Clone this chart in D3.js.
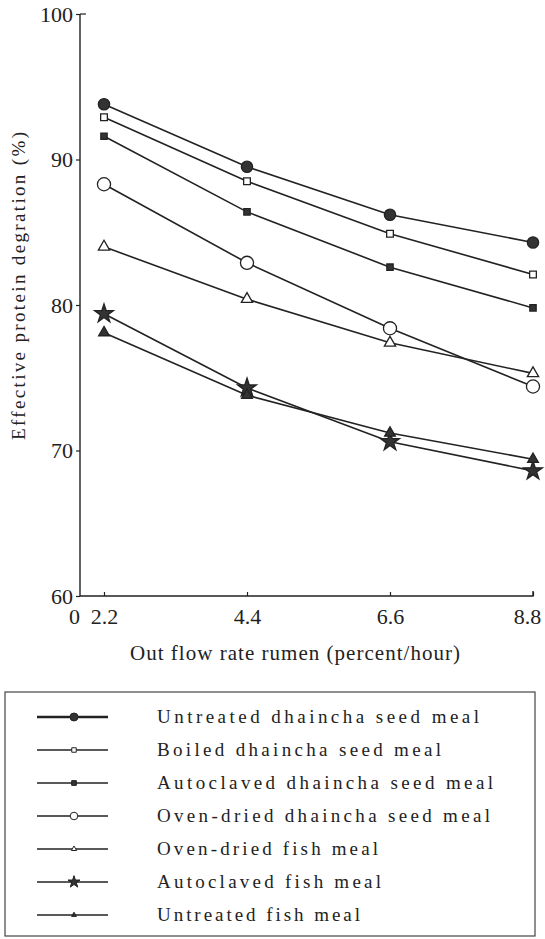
<!DOCTYPE html>
<html>
<head>
<meta charset="utf-8">
<script src="https://cdn.jsdelivr.net/npm/d3@7"></script>
<style>
  body { margin: 0; background: #fff; }
  svg { font-family: "Liberation Serif", "DejaVu Serif", serif; }
</style>
</head>
<body>
<div id="graph"></div>
<script>
// out flow rate (percent/hour)
var rates = [2.2, 4.4, 6.6, 8.8];
var xTicks = [0, 2.2, 4.4, 6.6, 8.8];
var yTicks = [60, 70, 80, 90, 100];

var names = ['Untreated dhaincha seed meal', 'Boiled dhaincha seed meal', 'Autoclaved dhaincha seed meal',
    'Oven-dried dhaincha seed meal', 'Oven-dried fish meal', 'Autoclaved fish meal', 'Untreated fish meal'];

// effective protein degradation (%), one list per feed
var untreatedDh = [93.8, 89.5, 86.2, 84.3];
var boiledDh = [92.9, 88.5, 84.9, 82.1];
var autoclavedDh = [91.6, 86.4, 82.6, 79.8];
var ovenDh = [88.3, 82.9, 78.4, 74.4];
var ovenFish = [84.0, 80.4, 77.4, 75.3];
var autoclavedFish = [79.4, 74.3, 70.6, 68.6];
var untreatedFish = [78.1, 73.8, 71.2, 69.4];

var allSeries = [untreatedDh, boiledDh, autoclavedDh, ovenDh, ovenFish, autoclavedFish, untreatedFish];

// marker look per series: [symbol, size in chart, size in legend, filled]
var marks = [
    [d3.symbolCircle, 100, 50, true],
    [d3.symbolSquare, 45, 20, false],
    [d3.symbolSquare, 40, 22, true],
    [d3.symbolCircle, 135, 45, false],
    [d3.symbolTriangle, 55, 12, false],
    [d3.symbolStar, 110, 45, true],
    [d3.symbolTriangle, 50, 10, true]
];

var W = 545, H = 939;
var ink = "#222";

var x = d3.scaleLinear()
    .domain([0, 2.2, 8.8])
    .range([76, 104, 533]);

var y = d3.scaleLinear()
    .domain([60, 100])
    .range([596, 14]);

var svg = 0;

window.addEventListener('load', function() {
    drawAxes();
    drawLines();
    drawLegend();
});

function drawAxes() {
    svg = d3.select("#graph")
        .append("svg")
        .attr("width", W)
        .attr("height", H);

    var ya = svg.append("g")
        .attr("transform", "translate(80,0)")
        .call(d3.axisLeft(y).tickValues(yTicks).tickSize(4).tickPadding(3));
    ya.select(".domain").attr("d", "M0," + y(100) + "V" + y(60)).attr("stroke", ink).attr("stroke-width", 1.4);
    ya.selectAll(".tick line").attr("stroke", ink).attr("stroke-width", 1.2);
    ya.selectAll(".tick text").attr("font-size", "22px").attr("fill", ink).attr("font-family", "Liberation Serif");
    // little hook at the top of the axis
    ya.append("line").attr("x1", 0).attr("x2", 6).attr("y1", y(100)).attr("y2", y(100))
        .attr("stroke", ink).attr("stroke-width", 1.2);

    var xa = svg.append("g")
        .attr("transform", "translate(0," + y(60) + ")")
        .call(d3.axisBottom(x).tickValues(xTicks).tickSizeInner(-4).tickSizeOuter(0).tickPadding(12)
            .tickFormat(d => d === 0 ? "0" : d3.format(".1f")(d)));
    xa.select(".domain").attr("d", "M80,0H" + x(8.8) + "V-5").attr("stroke", ink).attr("stroke-width", 1.4);
    xa.selectAll(".tick line").attr("stroke", ink).attr("stroke-width", 1.2)
        .filter(d => d === 0).remove();
    xa.selectAll(".tick text").attr("font-size", "22px").attr("fill", ink).attr("font-family", "Liberation Serif");
    xa.selectAll(".tick").filter(d => d === 0).select("text").attr("dx", -2);
    xa.selectAll(".tick").filter(d => d === 8.8).select("text").attr("dx", -6);

    svg.append("text")
        .attr("x", 130)
        .attr("y", 660)
        .attr("font-size", "21px")
        .attr("fill", ink)
        .attr("textLength", 330)
        .attr("lengthAdjust", "spacing")
        .text("Out flow rate rumen (percent/hour)");

    svg.append("text")
        .attr("transform", "translate(25,440) rotate(-90)")
        .attr("font-size", "19px")
        .attr("fill", ink)
        .attr("textLength", 308)
        .attr("lengthAdjust", "spacing")
        .text("Effective protein degration (%)");
}

function drawLines() {
    var line = d3.line()
        .x((d, i) => x(rates[i]))
        .y(d => y(d));

    allSeries.forEach((s, k) => {
        var g = svg.append("g");
        g.append("path")
            .attr("d", line(s))
            .attr("fill", "none")
            .attr("stroke", ink)
            .attr("stroke-width", 1.6);
        g.selectAll("path.pt")
            .data(s)
            .enter()
            .append("path")
            .attr("class", "pt")
            .attr("transform", (d, i) => "translate(" + x(rates[i]) + "," + y(d) + ")")
            .attr("d", d3.symbol().type(marks[k][0]).size(marks[k][1]))
            .attr("fill", marks[k][3] ? "#333" : "#fff")
            .attr("stroke", ink)
            .attr("stroke-width", 1.3);
    });
}

function drawLegend() {
    var lg = svg.append("g");
    lg.append("rect")
        .attr("x", 5)
        .attr("y", 692)
        .attr("width", 530)
        .attr("height", 244)
        .attr("fill", "none")
        .attr("stroke", "#444")
        .attr("stroke-width", 1.2);

    var textW = [322, 284, 336, 333, 221, 224, 203];

    names.forEach((n, k) => {
        var yy = 717 + k * 33;
        lg.append("line")
            .attr("x1", 37).attr("x2", 108)
            .attr("y1", yy).attr("y2", yy)
            .attr("stroke", ink)
            .attr("stroke-width", k === 0 ? 2.4 : 1.4);
        lg.append("path")
            .attr("transform", "translate(74," + yy + ")")
            .attr("d", d3.symbol().type(marks[k][0]).size(marks[k][2]))
            .attr("fill", marks[k][3] ? "#333" : "#fff")
            .attr("stroke", ink)
            .attr("stroke-width", 1);
        lg.append("text")
            .attr("x", 157)
            .attr("y", yy + 6)
            .attr("font-size", "19px")
            .attr("fill", ink)
            .attr("textLength", textW[k])
            .attr("lengthAdjust", "spacing")
            .text(n);
    });
}
</script>
</body>
</html>
